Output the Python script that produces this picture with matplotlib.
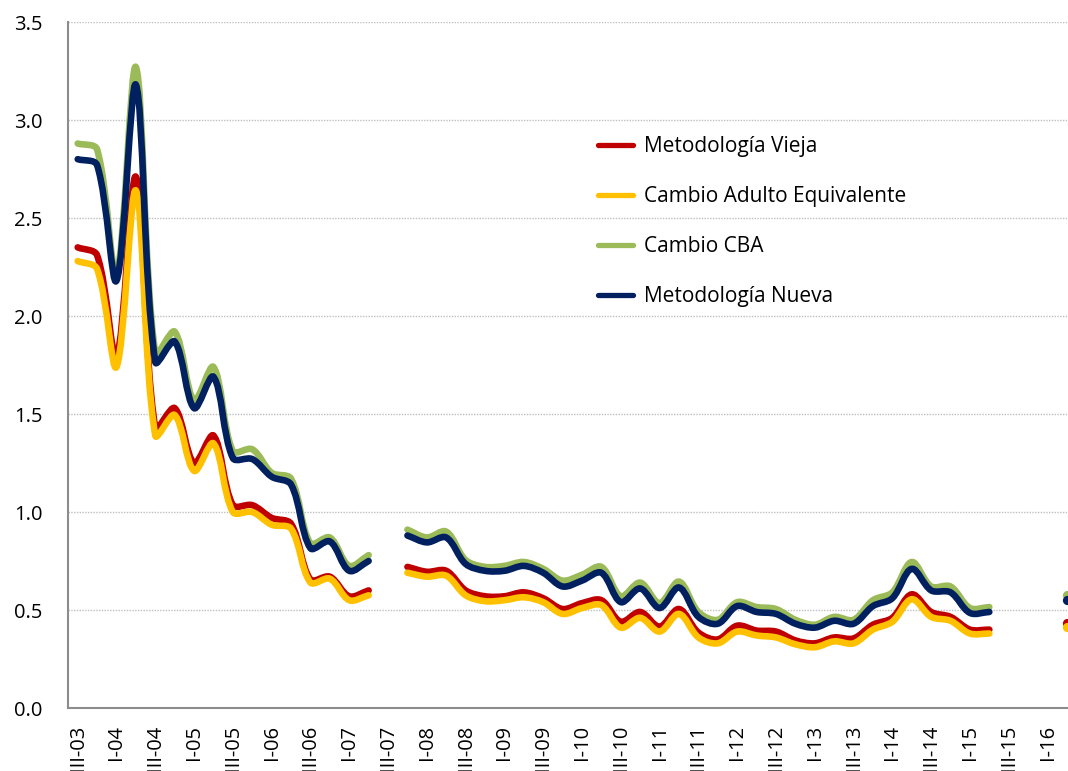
import numpy as np
import matplotlib.pyplot as plt
from matplotlib.path import Path
from matplotlib.patches import PathPatch
from matplotlib.lines import Line2D

plt.rcParams['font.family'] = ['Open Sans', 'DejaVu Sans']

# trimestres III-03 ... II-16 (None = sin dato)
trimestres = ['III-03', 'IV-03',
              'I-04', 'II-04', 'III-04', 'IV-04',
              'I-05', 'II-05', 'III-05', 'IV-05',
              'I-06', 'II-06', 'III-06', 'IV-06',
              'I-07', 'II-07', 'III-07', 'IV-07',
              'I-08', 'II-08', 'III-08', 'IV-08',
              'I-09', 'II-09', 'III-09', 'IV-09',
              'I-10', 'II-10', 'III-10', 'IV-10',
              'I-11', 'II-11', 'III-11', 'IV-11',
              'I-12', 'II-12', 'III-12', 'IV-12',
              'I-13', 'II-13', 'III-13', 'IV-13',
              'I-14', 'II-14', 'III-14', 'IV-14',
              'I-15', 'II-15', 'III-15', 'IV-15',
              'I-16', 'II-16']

met_vieja = [2.35, 2.31, 1.79, 2.71, 1.43, 1.53, 1.25, 1.39, 1.035, 1.035,
             0.97, 0.94, 0.655, 0.67, 0.57, 0.60, None, 0.72, 0.695, 0.70,
             0.60, 0.57, 0.57, 0.59, 0.56, 0.505, 0.535, 0.55, 0.44, 0.49,
             0.415, 0.505, 0.385, 0.35, 0.42, 0.395, 0.39, 0.345, 0.33, 0.36,
             0.355, 0.425, 0.46, 0.58, 0.49, 0.465, 0.40, 0.40, None, None,
             None, 0.435]
cambio_ae = [2.28, 2.24, 1.74, 2.64, 1.39, 1.495, 1.21, 1.35, 1.00, 1.00,
             0.935, 0.915, 0.64, 0.66, 0.55, 0.575, None, 0.69, 0.67, 0.675,
             0.575, 0.545, 0.55, 0.565, 0.54, 0.48, 0.51, 0.525, 0.41, 0.46,
             0.39, 0.48, 0.36, 0.33, 0.39, 0.37, 0.36, 0.325, 0.31, 0.34,
             0.33, 0.40, 0.44, 0.555, 0.465, 0.445, 0.38, 0.38, None, None,
             None, 0.415]
cambio_cba = [2.88, 2.85, 2.21, 3.27, 1.81, 1.92, 1.57, 1.74, 1.31, 1.32,
              1.20, 1.17, 0.84, 0.87, 0.725, 0.78, None, 0.91, 0.87, 0.90,
              0.755, 0.72, 0.725, 0.745, 0.71, 0.65, 0.68, 0.72, 0.57, 0.64,
              0.535, 0.645, 0.49, 0.45, 0.54, 0.515, 0.505, 0.45, 0.425, 0.465,
              0.45, 0.55, 0.59, 0.745, 0.62, 0.62, 0.51, 0.515, None, None,
              None, 0.575]
met_nueva = [2.80, 2.77, 2.18, 3.18, 1.765, 1.87, 1.53, 1.69, 1.275, 1.27,
             1.18, 1.14, 0.815, 0.85, 0.70, 0.75, None, 0.88, 0.845, 0.87,
             0.735, 0.70, 0.70, 0.725, 0.69, 0.62, 0.65, 0.69, 0.54, 0.61,
             0.51, 0.615, 0.465, 0.43, 0.52, 0.49, 0.48, 0.43, 0.41, 0.445,
             0.43, 0.52, 0.56, 0.71, 0.60, 0.59, 0.485, 0.49, None, None,
             None, 0.55]

series = [('Metodología Vieja', met_vieja, '#C00000'),
          ('Cambio Adulto Equivalente', cambio_ae, '#FFC000'),
          ('Cambio CBA', cambio_cba, '#9BBB59'),
          ('Metodología Nueva', met_nueva, '#002060')]

LW = 4.75


def tramos(vals):
    # partes continuas de la serie
    out, cur = [], []
    for i, v in enumerate(vals):
        if v is None:
            if cur:
                out.append(cur)
            cur = []
        else:
            cur.append((i, v))
    if cur:
        out.append(cur)
    return out


def curva(pts, ax):
    # linea suavizada estilo Excel: bezier, tangentes repartidas segun largo de tramo (en pixeles)
    p = ax.transData.transform(np.array(pts, dtype=float))
    n = len(p)
    izq = p.copy()
    der = p.copy()
    for i in range(n):
        a = p[i - 1] if i > 0 else p[i]
        b = p[i + 1] if i < n - 1 else p[i]
        d0 = np.hypot(*(p[i] - a))
        d1 = np.hypot(*(b - p[i]))
        if d0 + d1 == 0:
            continue
        t = (b - a) / 3
        izq[i] = p[i] - t * d0 / (d0 + d1)
        der[i] = p[i] + t * d1 / (d0 + d1)
    verts = [p[0]]
    codes = [Path.MOVETO]
    for i in range(n - 1):
        verts += [der[i], izq[i + 1], p[i + 1]]
        codes += [Path.CURVE4] * 3
    verts = ax.transData.inverted().transform(np.array(verts))
    return Path(verts, codes)


fig = plt.figure(figsize=(10.68, 7.71), dpi=100)
ax = fig.add_axes([68 / 1068, 63 / 771, 1028 / 1068, 686 / 771])
ax.set_xlim(-0.5, len(trimestres) + 0.5)
ax.set_ylim(0, 3.5)

for nombre, vals, color in series:
    for t in tramos(vals):
        if len(t) == 1:
            ax.plot([t[0][0]], [t[0][1]], 'o', ms=LW * 1.4, color=color, mew=0)
        else:
            ax.add_patch(PathPatch(curva(t, ax), facecolor='none', edgecolor=color,
                                   lw=LW, capstyle='round', joinstyle='round'))

ax.set_yticks(np.arange(0, 3.51, 0.5))
ax.set_yticklabels(['%.1f' % v for v in np.arange(0, 3.51, 0.5)])
ax.set_xticks(range(0, len(trimestres), 2))
ax.set_xticklabels(trimestres[::2], rotation=90)
ax.tick_params(axis='y', length=0, pad=18.5, labelsize=14.5)
ax.tick_params(axis='x', length=0, pad=12, labelsize=14.5)

ax.grid(axis='y', linestyle=(0, (1, 1)), color='#BFBFBF', lw=1)
ax.set_axisbelow(True)
for s in ['top', 'right']:
    ax.spines[s].set_visible(False)
for s in ['left', 'bottom']:
    ax.spines[s].set_color('#8C8C8C')
    ax.spines[s].set_linewidth(1.5)

handles = [Line2D([], [], color=c, lw=3.8, solid_capstyle='round') for _, _, c in series]
ax.legend(handles, [n for n, _, _ in series], loc='upper left',
          bbox_to_anchor=(598 / 1068, 1 - 136 / 771), bbox_transform=fig.transFigure,
          frameon=False, fontsize=15, handlelength=1.7, handletextpad=0.5,
          labelspacing=1.39, borderpad=0, borderaxespad=0)

fig.savefig('out.png', dpi=100)
